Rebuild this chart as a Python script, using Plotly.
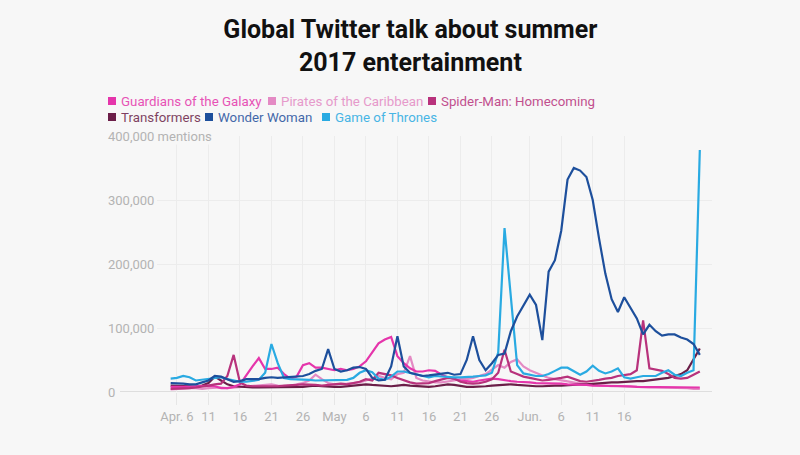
import pandas as pd
import plotly.graph_objects as go

# ---- data (values in thousands of mentions, daily) ----
dates = pd.date_range("2017-04-05", periods=85, freq="D")

guardians = [8, 8, 7, 8, 9, 10, 10, 9, 6, 6, 8, 12, 27, 40, 53, 36, 36, 38, 28, 21,
             24, 42, 45, 38, 38, 36, 34, 36, 34, 36, 40, 48, 62, 76, 82, 86, 56, 45, 37, 32,
             32, 34, 33, 27, 23, 20, 18, 17, 16, 18, 19, 21, 20, 18, 17, 16, 16, 15, 14, 14,
             13, 14, 13, 12, 12, 11, 11, 10, 10, 10, 9, 9, 9, 9, 8, 8, 8, 8, 8, 8,
             8, 8, 7, 7, 7]
pirates = [4, 5, 5, 6, 6, 5, 6, 7, 7, 6, 7, 8, 8, 9, 10, 12, 12, 10, 9, 10,
           12, 14, 18, 27, 20, 14, 12, 12, 13, 14, 15, 18, 22, 25, 22, 20, 28, 30, 56, 22,
           18, 16, 15, 15, 16, 18, 20, 20, 22, 25, 28, 35, 42, 38, 47, 51, 40, 34, 30, 27,
           22, 20, 18, 16, 14, 13, 12, 11, 10, 10, 9, 9, 8, 8, 8, 7, 7, 7, 7, 6,
           6, 6, 6, 5, 5]
spiderman = [5, 5, 6, 6, 7, 8, 10, 12, 13, 25, 58, 15, 10, 9, 9, 8, 8, 9, 10, 10,
             11, 12, 12, 11, 10, 11, 12, 13, 12, 14, 16, 20, 18, 30, 28, 26, 22, 18, 15, 13,
             13, 14, 17, 20, 22, 21, 16, 14, 13, 14, 16, 20, 30, 66, 32, 28, 24, 22, 20, 18,
             19, 20, 22, 24, 21, 17, 16, 17, 19, 21, 22, 25, 26, 28, 34, 112, 37, 35, 33, 28,
             22, 21, 22, 27, 32]
transformers = [10, 10, 9, 9, 8, 10, 14, 24, 18, 12, 9, 8, 7, 7, 7, 7, 8, 8, 7, 7,
                8, 8, 9, 10, 9, 8, 8, 8, 9, 10, 11, 12, 11, 10, 9, 9, 10, 11, 10, 9,
                8, 8, 9, 10, 12, 11, 9, 8, 8, 8, 9, 10, 11, 12, 12, 11, 10, 10, 9, 9,
                10, 10, 10, 11, 11, 12, 12, 13, 13, 14, 15, 15, 16, 16, 17, 17, 18, 19, 21, 22,
                25, 28, 34, 52, 68]
wonder_woman = [14, 14, 13, 12, 12, 15, 18, 25, 24, 20, 16, 17, 20, 20, 20, 22, 23, 22, 23, 23,
                24, 25, 28, 33, 36, 67, 36, 32, 34, 38, 39, 36, 22, 18, 19, 40, 87, 40, 30, 27,
                25, 26, 27, 29, 30, 27, 28, 50, 87, 50, 34, 45, 58, 60, 95, 118, 136, 152, 136, 81,
                188, 206, 252, 332, 350, 346, 336, 300, 240, 185, 145, 125, 148, 132, 115, 90, 105, 95, 88, 90,
                90, 85, 82, 75, 58]
got = [21, 22, 25, 23, 18, 19, 20, 21, 23, 20, 18, 16, 16, 17, 19, 30, 75, 45, 22, 20,
       20, 19, 19, 18, 18, 18, 18, 18, 19, 22, 30, 34, 31, 21, 19, 24, 32, 32, 30, 27,
       25, 23, 25, 24, 23, 23, 23, 23, 24, 25, 26, 30, 62, 256, 145, 42, 29, 27, 25, 25,
       28, 33, 38, 38, 32, 27, 32, 41, 33, 29, 32, 37, 23, 21, 23, 25, 25, 25, 30, 34,
       27, 25, 30, 34, 378]

series_names = ["Guardians of the Galaxy", "Pirates of the Caribbean", "Spider-Man: Homecoming",
                "Transformers", "Wonder Woman", "Game of Thrones"]
series_values = [guardians, pirates, spiderman, transformers, wonder_woman, got]
series_colors = ["#e535ab", "#e48ac4", "#b8327c", "#6b1e48", "#1d4f9c", "#29aae2"]
draw_order = [1, 3, 0, 2, 5, 4]

x_tick_dates = ["2017-04-06", "2017-04-11", "2017-04-16", "2017-04-21", "2017-04-26",
                "2017-05-01", "2017-05-06", "2017-05-11", "2017-05-16", "2017-05-21",
                "2017-05-26", "2017-06-01", "2017-06-06", "2017-06-11", "2017-06-16"]
x_tick_text = ["Apr. 6", "11", "16", "21", "26", "May", "6", "11", "16", "21",
               "26", "Jun.", "6", "11", "16"]
y_tick_vals = [0, 100000, 200000, 300000, 400000]
y_tick_text = ["0", "100,000", "200,000", "300,000", "400,000 mentions"]

BG = "#f7f7f7"
FONT = "Roboto, Inter, sans-serif"

fig = go.Figure()
for k in draw_order:
    fig.add_trace(go.Scatter(
        x=dates, y=[v * 1000 for v in series_values[k]], mode="lines",
        name=series_names[k], line=dict(color=series_colors[k], width=2.2),
        showlegend=False,
    ))

W, H = 800, 455
L, R, T, B = 157, 88, 136, 63
pw = W - L - R
ph = H - T - B

def px_x(p):
    return (p - L) / pw

def px_y(p):
    return (H - B - p) / ph

annotations = []
shapes = []

# y-axis labels (left aligned)
for v, t in zip(y_tick_vals, y_tick_text):
    annotations.append(dict(x=px_x(107), xref="paper", y=v, yref="y", text=t,
                            showarrow=False, xanchor="left", yanchor="middle",
                            font=dict(family=FONT, size=13, color="#b3b3b3"),
                            bgcolor=BG, borderpad=0))

# zero line extended to the left
shapes.append(dict(type="line", xref="paper", yref="y", x0=px_x(120), x1=1, y0=0, y1=0,
                   line=dict(color="#d6d6d6", width=1.5), layer="below"))

# legend (two rows)
legend_pos = [(108, 101), (268, 101), (428, 101), (108, 117), (205, 117), (322, 117)]
for (lx, ly), name, col in zip(legend_pos, series_names, series_colors):
    shapes.append(dict(type="rect", xref="paper", yref="paper",
                       x0=px_x(lx), x1=px_x(lx + 8), y0=px_y(ly - 4), y1=px_y(ly + 4),
                       fillcolor=col, line=dict(width=0)))
    annotations.append(dict(x=px_x(lx + 11), xref="paper", y=px_y(ly), yref="paper",
                            text=name, showarrow=False, xanchor="left", yanchor="middle",
                            font=dict(family=FONT, size=13.3, color=col), opacity=0.85))

fig.update_layout(
    width=W, height=H,
    margin=dict(l=L, r=R, t=T, b=B),
    paper_bgcolor=BG, plot_bgcolor=BG,
    showlegend=False,
    title=dict(text="Global Twitter talk about summer<br>2017 entertainment",
               x=0.513, xanchor="center", y=1 - 38 / H, yanchor="middle",
               font=dict(family=FONT, size=25, color="#111111", weight="bold")),
    xaxis=dict(type="date", range=["2017-04-02 20:00", "2017-06-29 22:24"],
               tickvals=x_tick_dates, ticktext=x_tick_text,
               showgrid=True, gridcolor="#ececec", gridwidth=1,
               ticks="outside", ticklen=12, tickcolor="#e6e6e6", tickwidth=1,
               tickfont=dict(family=FONT, size=13, color="#b3b3b3"),
               showline=False, zeroline=False, fixedrange=True),
    yaxis=dict(range=[0, 400000], tickvals=y_tick_vals, showticklabels=False,
               showgrid=True, gridcolor="#ececec", gridwidth=1,
               zeroline=False, showline=False, fixedrange=True),
    annotations=annotations, shapes=shapes,
    hovermode=False,
)

fig.write_html("out.html",
               config={"displayModeBar": False},
               post_script="document.body.style.margin='0';document.body.style.background='%s';" % BG)
